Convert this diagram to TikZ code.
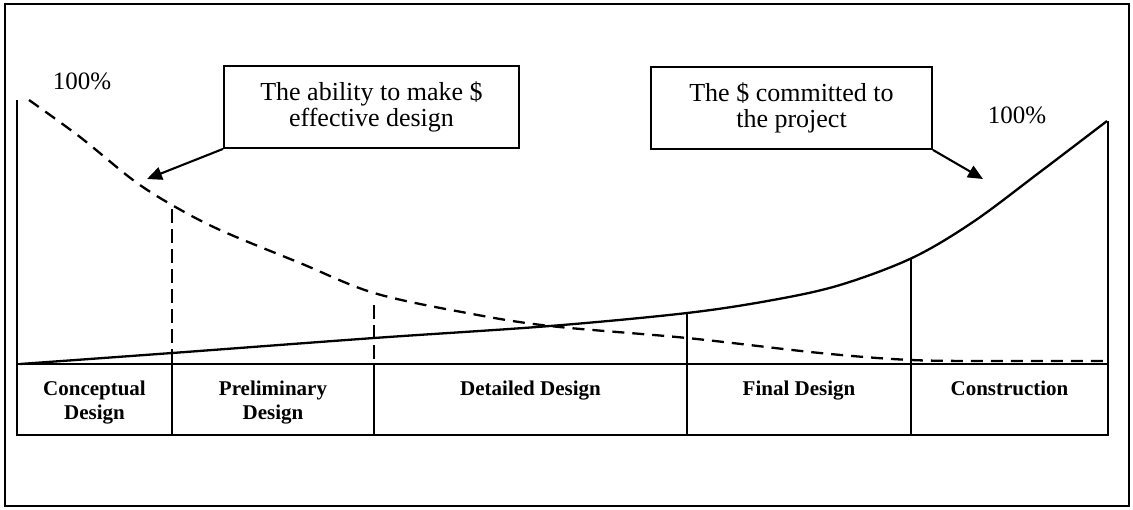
\documentclass[tikz,border=0pt]{standalone}
\usepackage{fontspec}
\setmainfont{Liberation Serif}
\usetikzlibrary{arrows.meta}
\begin{document}
\begin{tikzpicture}[x=1pt,y=-1pt,
  frame/.style={line width=1.6pt},
  axis/.style={line width=2.4pt},
  costline/.style={line width=2.3pt,line join=round},
  abilityline/.style={line width=2.3pt,dash pattern=on 12pt off 8pt},
  phasedash/.style={line width=2.3pt,dash pattern=on 14pt off 6pt},
  callout/.style={draw,line width=1.8pt,minimum height=82pt,inner sep=0pt,
    align=center,font=\fontsize{26}{26.5}\selectfont},
  pointer/.style={line width=2.1pt,-{Triangle[length=15pt,width=13pt]}},
  phase/.style={anchor=north,inner sep=0pt,align=center,
    font=\fontsize{21}{24}\selectfont\bfseries},
  pct/.style={font=\fontsize{25}{28}\selectfont,inner sep=0pt}]
\useasboundingbox (0,0) rectangle (1133,509);

% outer frame
\draw[frame] (5,4) rectangle (1129,506);

% axes and phase table
\draw[axis] (17,100) -- (17,435) -- (1108,435) -- (1108,121);
\draw[axis] (17,364) -- (1108,364);
\draw[axis] (172,364) -- (172,435);
\draw[axis] (374,364) -- (374,435);
\draw[axis] (687,313) -- (687,435);
\draw[axis] (911,258) -- (911,435);

% phase boundaries reaching the ability curve
\draw[phasedash] (172,209) -- (172,364);
\draw[phasedash] (374,305) -- (374,364);

% the $ committed to the project
\draw[costline] plot[smooth,tension=0.55] coordinates {
  (20,364) (172,353) (374,338) (550,326) (687,313) (773,300)
  (840,285) (912,258) (973,222) (1040,172) (1107,121)};

% the ability to make $ effective design
\draw[abilityline] plot[smooth,tension=0.55] coordinates {
  (29,100) (80,137) (133,180) (172,205) (220,230) (300,263) (374,293)
  (467,313) (550,326) (687,338) (820,353) (911,360) (1000,361) (1107,361)};

% percentage labels
\node[pct] (pctL) at (82,81) {100\%};
\node[pct] (pctR) at (1017,115) {100\%};

% callouts
\node[callout,minimum width=295pt] (abil) at (371.5,107)
  {The ability to make \$\\effective design};
\node[callout,minimum width=281pt] (comm) at (791.5,108)
  {The \$ committed to\\the project};
\coordinate (abilTip) at (147,179);
\coordinate (commTip) at (983,179);
\draw[pointer] (abil.south west) -- (abilTip);
\draw[pointer] (comm.south east) -- (commTip);

% phase names
\node[phase] (concept) at (94.5,380.5) {Conceptual\\Design};
\node[phase] (prelim)  at (273,380.5)  {Preliminary\\Design};
\node[phase] (detail)  at (530.5,380.5) {Detailed Design};
\node[phase] (final)   at (799,380.5)  {Final Design};
\node[phase] (constr)  at (1009.5,380.5) {Construction};
\end{tikzpicture}
\end{document}
